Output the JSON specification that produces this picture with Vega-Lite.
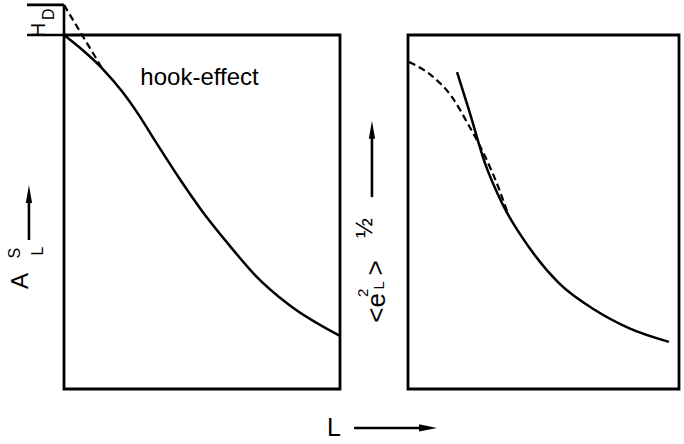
{
  "$schema": "https://vega.github.io/schema/vega-lite/v6.json",
  "autosize": {"type": "pad"},
  "padding": {"left": 6, "top": -1, "right": 0, "bottom": 0},
  "background": "white",
  "bounds": "flush",
  "config": {
    "view": {"stroke": "black", "strokeWidth": 2.8},
    "text": {"font": "Liberation Sans", "color": "black"}
  },
  "spacing": 68,
  "datasets": {
    "leftSolid": [
      {"x": 0.0, "y": 1.0}, {"x": 0.065, "y": 0.959}, {"x": 0.138, "y": 0.906},
      {"x": 0.21, "y": 0.841}, {"x": 0.272, "y": 0.773}, {"x": 0.33, "y": 0.701},
      {"x": 0.417, "y": 0.596}, {"x": 0.5, "y": 0.503}, {"x": 0.598, "y": 0.407},
      {"x": 0.692, "y": 0.322}, {"x": 0.815, "y": 0.238}, {"x": 1.0, "y": 0.15}
    ],
    "leftDashed": [{"x": 0.0, "y": 1.085}, {"x": 0.138, "y": 0.906}],
    "leftRules": [
      {"x": -0.134, "y": 1.085, "x2": 0.0, "y2": 1.085},
      {"x": -0.134, "y": 1.0, "x2": 0.0, "y2": 1.0},
      {"x": 0.0, "y": 1.0, "x2": 0.0, "y2": 1.085},
      {"x": -0.127, "y": 0.421, "x2": -0.127, "y2": 0.53},
      {"x": 1.051, "y": -0.11, "x2": 1.29, "y2": -0.11}
    ],
    "leftUpHead": [{"x": -0.127, "y": 0.551}],
    "leftRightHead": [{"x": 1.319, "y": -0.11}],
    "leftA": [{"x": -0.156, "y": 0.305, "t": "A"}],
    "leftSmall": [{"x": -0.176, "y": 0.384, "t": "S"}, {"x": -0.094, "y": 0.39, "t": "L"}],
    "leftH": [{"x": -0.091, "y": 1.014, "t": "H"}],
    "leftD": [{"x": -0.054, "y": 1.059, "t": "D"}],
    "bottomL": [{"x": 0.978, "y": -0.11, "t": "L"}],
    "hook": [{"x": 0.491, "y": 0.859, "t": "hook-effect"}],
    "rightSolid": [
      {"x": 0.181, "y": 0.895}, {"x": 0.225, "y": 0.788}, {"x": 0.284, "y": 0.638},
      {"x": 0.347, "y": 0.525}, {"x": 0.446, "y": 0.401}, {"x": 0.557, "y": 0.299},
      {"x": 0.69, "y": 0.223}, {"x": 0.815, "y": 0.172}, {"x": 0.963, "y": 0.133}
    ],
    "rightDashed": [
      {"x": 0.004, "y": 0.924}, {"x": 0.089, "y": 0.884}, {"x": 0.162, "y": 0.825},
      {"x": 0.221, "y": 0.749}, {"x": 0.273, "y": 0.675}, {"x": 0.336, "y": 0.565},
      {"x": 0.369, "y": 0.494}
    ],
    "rightRules": [{"x": -0.133, "y": 0.542, "x2": -0.133, "y2": 0.72}],
    "rightUpHead": [{"x": -0.133, "y": 0.732}],
    "rightBig": [{"x": -0.114, "y": 0.229, "t": "<e"}, {"x": -0.118, "y": 0.342, "t": ">"}],
    "rightSmall": [{"x": -0.166, "y": 0.272, "t": "2"}, {"x": -0.107, "y": 0.293, "t": "L"}],
    "rightHalf": [{"x": -0.158, "y": 0.455, "t": "½"}]
  },
  "hconcat": [
    {
      "width": 276,
      "height": 354,
      "encoding": {
        "x": {"field": "x", "type": "quantitative", "scale": {"domain": [0, 1], "nice": false, "zero": false}, "axis": null},
        "y": {"field": "y", "type": "quantitative", "scale": {"domain": [0, 1], "nice": false, "zero": false}, "axis": null}
      },
      "layer": [
        {"data": {"name": "leftSolid"}, "mark": {"type": "line", "color": "black", "strokeWidth": 2.5, "interpolate": "monotone"}},
        {"data": {"name": "leftDashed"}, "mark": {"type": "line", "color": "black", "strokeWidth": 2.2, "strokeDash": [7, 4]}},
        {"data": {"name": "leftRules"}, "mark": {"type": "rule", "color": "black", "strokeWidth": 2.6},
         "encoding": {"x2": {"field": "x2"}, "y2": {"field": "y2"}}},
        {"data": {"name": "leftUpHead"}, "mark": {"type": "point", "shape": "M0,-1L0.35,1L-0.35,1Z", "filled": true, "color": "black", "opacity": 1, "size": 324}},
        {"data": {"name": "leftRightHead"}, "mark": {"type": "point", "shape": "M1,0L-1,0.4L-1,-0.4Z", "filled": true, "color": "black", "opacity": 1, "size": 324}},
        {"data": {"name": "leftA"}, "mark": {"type": "text", "angle": 270, "fontSize": 24, "align": "center", "baseline": "middle"}, "encoding": {"text": {"field": "t"}}},
        {"data": {"name": "leftSmall"}, "mark": {"type": "text", "angle": 270, "fontSize": 16, "align": "center", "baseline": "middle"}, "encoding": {"text": {"field": "t"}}},
        {"data": {"name": "leftH"}, "mark": {"type": "text", "angle": 270, "fontSize": 20, "align": "center", "baseline": "middle"}, "encoding": {"text": {"field": "t"}}},
        {"data": {"name": "leftD"}, "mark": {"type": "text", "angle": 270, "fontSize": 16, "align": "center", "baseline": "middle"}, "encoding": {"text": {"field": "t"}}},
        {"data": {"name": "bottomL"}, "mark": {"type": "text", "fontSize": 25, "align": "center", "baseline": "middle"}, "encoding": {"text": {"field": "t"}}},
        {"data": {"name": "hook"}, "mark": {"type": "text", "fontSize": 24, "align": "center", "baseline": "alphabetic"}, "encoding": {"text": {"field": "t"}}}
      ]
    },
    {
      "width": 271,
      "height": 354,
      "encoding": {
        "x": {"field": "x", "type": "quantitative", "scale": {"domain": [0, 1], "nice": false, "zero": false}, "axis": null},
        "y": {"field": "y", "type": "quantitative", "scale": {"domain": [0, 1], "nice": false, "zero": false}, "axis": null}
      },
      "layer": [
        {"data": {"name": "rightSolid"}, "mark": {"type": "line", "color": "black", "strokeWidth": 2.5, "interpolate": "monotone"}},
        {"data": {"name": "rightDashed"}, "mark": {"type": "line", "color": "black", "strokeWidth": 2.2, "strokeDash": [7, 4], "interpolate": "monotone"}},
        {"data": {"name": "rightRules"}, "mark": {"type": "rule", "color": "black", "strokeWidth": 2.6},
         "encoding": {"x2": {"field": "x2"}, "y2": {"field": "y2"}}},
        {"data": {"name": "rightUpHead"}, "mark": {"type": "point", "shape": "M0,-1L0.35,1L-0.35,1Z", "filled": true, "color": "black", "opacity": 1, "size": 324}},
        {"data": {"name": "rightBig"}, "mark": {"type": "text", "angle": 270, "fontSize": 26, "align": "center", "baseline": "middle"}, "encoding": {"text": {"field": "t"}}},
        {"data": {"name": "rightSmall"}, "mark": {"type": "text", "angle": 270, "fontSize": 15, "align": "center", "baseline": "middle"}, "encoding": {"text": {"field": "t"}}},
        {"data": {"name": "rightHalf"}, "mark": {"type": "text", "angle": 270, "fontSize": 24, "align": "center", "baseline": "middle"}, "encoding": {"text": {"field": "t"}}}
      ]
    }
  ]
}
